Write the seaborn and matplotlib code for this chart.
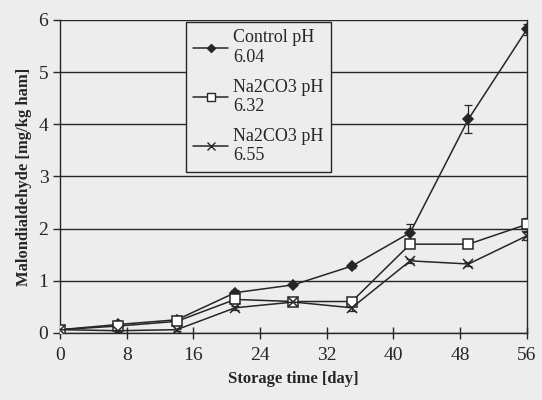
import numpy as np
import pandas as pd
import seaborn as sns
from matplotlib import pyplot as plt
from matplotlib.lines import Line2D

# storage days and MDA values
days = [0, 7, 14, 21, 28, 35, 42, 49, 56]
control = [0.06, 0.16, 0.25, 0.77, 0.92, 1.28, 1.92, 4.10, 5.82]
na_632 = [0.06, 0.13, 0.22, 0.64, 0.60, 0.60, 1.70, 1.70, 2.08]
na_655 = [0.06, 0.04, 0.06, 0.48, 0.59, 0.48, 1.38, 1.32, 1.86]
control_err = [0.02, 0.03, 0.03, 0.05, 0.03, 0.04, 0.17, 0.26, 0.11]
na_632_err = [0.02, 0.02, 0.03, 0.04, 0.03, 0.04, 0.05, 0.04, 0.12]
na_655_err = [0.02, 0.02, 0.02, 0.04, 0.03, 0.06, 0.04, 0.04, 0.08]
labels = ["Control pH\n6.04", "Na2CO3 pH\n6.32", "Na2CO3 pH\n6.55"]

sns.set_theme(style="white")
plt.rcParams['font.family'] = ['Liberation Serif', 'DejaVu Serif']

bg = "#ededed"
ink = "#262626"
fig, ax = plt.subplots(figsize=(5.42, 4.0), dpi=100)
fig.patch.set_facecolor(bg)
ax.set_facecolor(bg)
fig.subplots_adjust(left=0.111, right=0.972, top=0.95, bottom=0.168)

series = [
    (control, control_err, "D", ink, 5.5),
    (na_632, na_632_err, "s", "white", 7),
    (na_655, na_655_err, "x", "none", 7),
]
handles = []
for (vals, err, mk, face, ms), lab in zip(series, labels):
    df = pd.DataFrame({"day": days, "mda": vals})
    sns.lineplot(data=df, x="day", y="mda", ax=ax, color=ink, lw=1.1,
                 marker=mk, markersize=ms, markerfacecolor=face,
                 markeredgecolor=ink, markeredgewidth=1.1, zorder=3)
    ax.errorbar(days, vals, yerr=err, fmt="none", ecolor=ink,
                elinewidth=0.9, capsize=3, capthick=0.9, zorder=2)
    handles.append(Line2D([], [], color=ink, lw=1.1, marker=mk, markersize=ms - 1,
                          markerfacecolor=face, markeredgecolor=ink, label=lab))

ax.set_xlim(0, 56)
ax.set_ylim(0, 6)
ax.set_xticks(range(0, 57, 8))
ax.set_yticks(range(0, 7))
ax.yaxis.grid(True, color=ink, lw=1.0)
ax.set_axisbelow(True)
for s in ax.spines.values():
    s.set_color(ink)
    s.set_linewidth(1.0)
ax.spines["top"].set_visible(False)

ax.tick_params(axis="x", direction="inout", length=9, width=1, colors=ink,
               labelsize=14, pad=6, bottom=True)
ax.tick_params(axis="y", direction="out", length=5, width=1, colors=ink,
               labelsize=14, left=True)
ax.set_xlabel("Storage time [day]", fontsize=12, fontweight="bold", color=ink, labelpad=5)
ax.set_ylabel("Malondialdehyde [mg/kg ham]", fontsize=12, fontweight="bold", color=ink, labelpad=5)

leg = ax.legend(handles=handles, loc="upper left", bbox_to_anchor=(0.27, 0.993),
                fontsize=13, frameon=True, fancybox=False, handlelength=1.9,
                handletextpad=0.3, labelspacing=0.7, borderpad=0.4,
                borderaxespad=0.0, edgecolor=ink, facecolor=bg, framealpha=1)
leg.get_frame().set_linewidth(1.0)
for t in leg.get_texts():
    t.set_color(ink)
    t.set_linespacing(1.2)

fig.savefig("out.png", dpi=100, facecolor=bg)
